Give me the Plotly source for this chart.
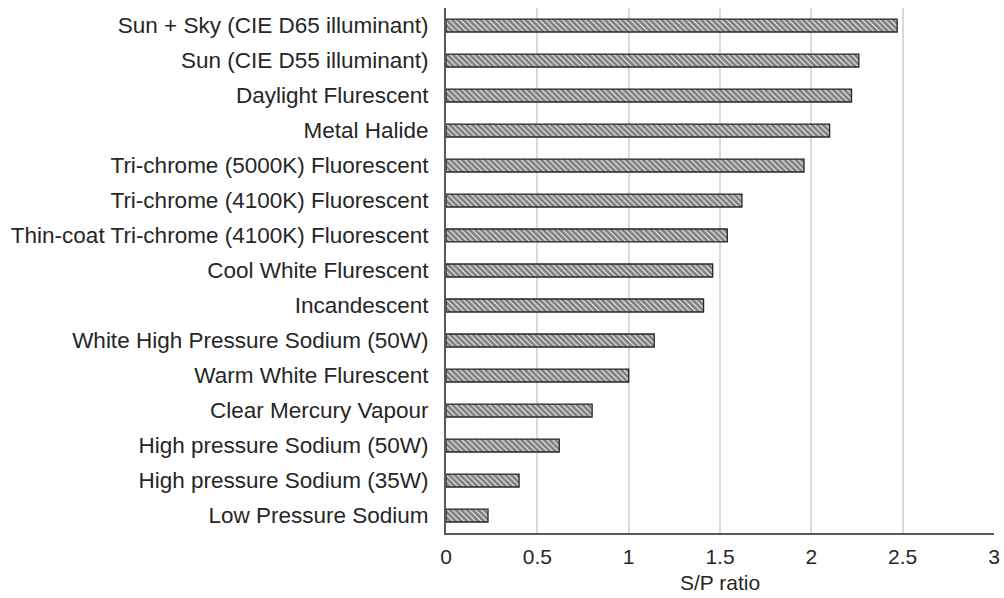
import plotly.graph_objects as go

categories = [
    "Sun + Sky (CIE D65 illuminant)",
    "Sun (CIE D55 illuminant)",
    "Daylight Flurescent",
    "Metal Halide",
    "Tri-chrome (5000K) Fluorescent",
    "Tri-chrome (4100K) Fluorescent",
    "Thin-coat Tri-chrome (4100K) Fluorescent",
    "Cool White Flurescent",
    "Incandescent",
    "White High Pressure Sodium (50W)",
    "Warm White Flurescent",
    "Clear Mercury Vapour",
    "High pressure Sodium (50W)",
    "High pressure Sodium (35W)",
    "Low Pressure Sodium",
]
sp_ratio = [2.47, 2.26, 2.22, 2.10, 1.96, 1.62, 1.54, 1.46, 1.41, 1.14, 1.00, 0.80, 0.62, 0.40, 0.23]
x_ticks = [0, 0.5, 1, 1.5, 2, 2.5, 3]
x_tick_labels = ["0", "0.5", "1", "1.5", "2", "2.5", "3"]

fig = go.Figure(
    go.Bar(
        y=categories,
        x=sp_ratio,
        orientation="h",
        marker=dict(
            color="white",
            line=dict(color="#262626", width=1.3),
            pattern=dict(shape="\\", fgcolor="black", bgcolor="white", size=4, solidity=0.75),
        ),
    )
)

font = "Liberation Sans"
fig.update_layout(
    width=1004,
    height=598,
    margin=dict(l=446, r=10, t=8, b=65, autoexpand=False),
    paper_bgcolor="white",
    plot_bgcolor="white",
    bargap=0.63,
    showlegend=False,
    font=dict(family=font, size=22, color="#262626"),
)
fig.update_yaxes(
    categoryorder="array",
    categoryarray=categories[::-1],
    automargin=False,
    showline=True,
    linecolor="#595959",
    linewidth=2,
    ticks="",
    ticklabelstandoff=11,
    tickfont=dict(family=font, size=22.5, color="#262626"),
    showgrid=False,
)
fig.update_xaxes(
    range=[0, 3],
    automargin=False,
    tickvals=x_ticks,
    ticktext=x_tick_labels,
    showline=True,
    linecolor="#595959",
    linewidth=2,
    showgrid=True,
    gridcolor="#d9d9d9",
    gridwidth=1.5,
    zeroline=False,
    ticklabelstandoff=4,
    tickfont=dict(family=font, size=21, color="#262626"),
    title=dict(text="S/P ratio", font=dict(family=font, size=21, color="#262626"), standoff=8),
)

fig.write_html(
    "out.html",
    config={"displayModeBar": False},
    post_script="document.body.style.margin='0';",
)
